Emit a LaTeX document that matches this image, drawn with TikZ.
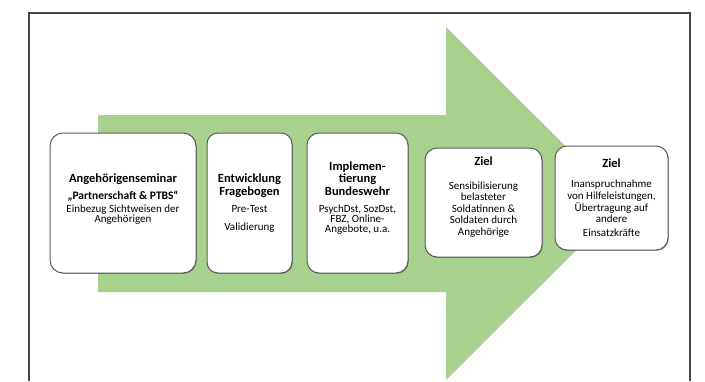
\documentclass[tikz,border=0pt]{standalone}
\usepackage{fontspec}
\setmainfont{Carlito}
\usetikzlibrary{shadows}
\definecolor{arrowgreen}{RGB}{169,209,142}
\definecolor{framegray}{RGB}{70,70,70}
\definecolor{boxgray}{RGB}{90,90,90}
\newcommand{\mytitle}{\fontsize{12.5}{13}\selectfont\bfseries}
\newcommand{\mysub}{\fontsize{11.5}{12}\selectfont\bfseries}
\newcommand{\mybody}{\fontsize{11}{11.5}\selectfont\lineskiplimit=-20pt}
\begin{document}
\begin{tikzpicture}[x=1pt,y=-1pt,
  stage/.style={draw=boxgray, line width=1pt, fill=white, rounded corners=13pt, inner sep=0pt,
    drop shadow={shadow xshift=0.8pt, shadow yshift=-0.8pt, opacity=0.3, fill=black}},
  stagetext/.style={align=center, font=\mybody, inner sep=0pt}]
\useasboundingbox (0,0) rectangle (705,381);
\fill[white] (0,0) rectangle (705,381);
% frame
\coordinate (fbl) at (29,381);
\coordinate (ftl) at (29,13);
\coordinate (ftr) at (690,13);
\coordinate (fbr) at (690,381);
\draw[framegray, line width=1.2pt] (fbl) -- (ftl) -- (ftr) -- (fbr);
% big arrow
\fill[arrowgreen] (98,115) -- (446,115) -- (446,27) -- (623,203.5) -- (446,380) -- (446,292) -- (98,292) -- cycle;
% boxes
\node[stage, minimum width=146pt, minimum height=140pt] (box1) at (123,203) {};
\node[stage, minimum width=85pt, minimum height=140pt, rounded corners=11pt] (box2) at (249.5,203) {};
\node[stage, minimum width=101pt, minimum height=140pt, rounded corners=12pt] (box3) at (357.5,203) {};
\node[stage, minimum width=117pt, minimum height=109pt, rounded corners=12pt] (box4) at (483.5,202.5) {};
\node[stage, minimum width=113pt, minimum height=104pt, rounded corners=12pt] (box5) at (611.5,198) {};
% texts
\node[stagetext] (t1) at (123,199) {{\mytitle Angehörigenseminar}\\[5.5pt]{\mysub „Partnerschaft \& PTBS“}\\[1.5pt]Einbezug Sichtweisen der\\[-1.5pt]Angehörigen};
\node[stagetext] (t2) at (249.5,203.5) {{\mytitle Entwicklung}\\[1.5pt]{\mytitle Fragebogen}\\[5.5pt]Pre-Test\\[6.5pt]Validierung};
\node[stagetext] (t3) at (357.5,198.5) {{\mytitle Implemen-}\\[0.5pt]{\mytitle tierung}\\[1.5pt]{\mytitle Bundeswehr}\\[5.5pt]PsychDst, SozDst,\\[-1.5pt]FBZ, Online-\\[-1.5pt]Angebote, u.a.};
\node[stagetext] (t4) at (483.5,197) {{\mytitle Ziel}\\[12.5pt]Sensibilisierung\\belasteter\\Soldatinnen \&\\Soldaten durch\\Angehörige};
\node[stagetext] (t5) at (611.5,197.5) {{\mytitle Ziel}\\[8.5pt]Inanspruchnahme\\[0.5pt]von Hilfeleistungen,\\[0.5pt]Übertragung auf\\andere\\[2.5pt]Einsatzkräfte};
\end{tikzpicture}
\end{document}
